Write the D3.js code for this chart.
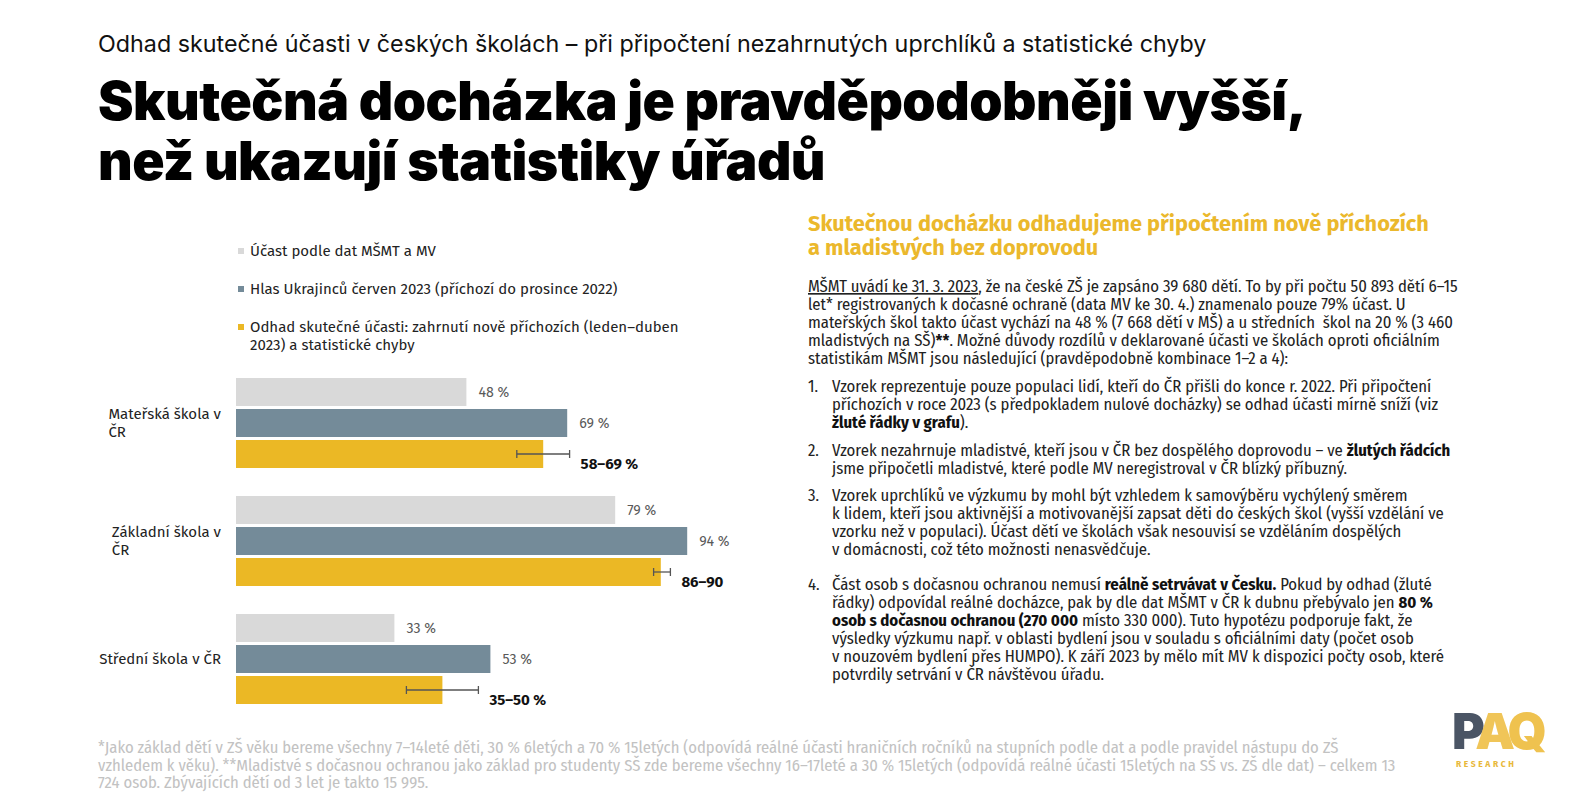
<!DOCTYPE html>
<html>
<head>
<meta charset="utf-8">
<title>Skutečná docházka</title>
<script src="https://cdn.jsdelivr.net/npm/d3@7"></script>
<style>
body { margin:0; background:#fff; }
svg text { white-space: pre; }
</style>
</head>
<body>
<script>
var width = 1576, height = 804;

// --- data ---
var categories = ["Mateřská škola v ČR", "Základní škola v ČR", "Střední škola v ČR"];
var categoryLines = [["Mateřská škola v", "ČR"], ["Základní škola v", "ČR"], ["Střední škola v ČR"]];
var seriesKeys = ["official", "survey", "estimate"];
var legendLines = [
  ["Účast podle dat MŠMT a MV"],
  ["Hlas Ukrajinců červen 2023 (příchozí do prosince 2022)"],
  ["Odhad skutečné účasti: zahrnutí nově příchozích (leden–duben", "2023) a statistické chyby"]
];
var officialValues = [48, 79, 33];
var surveyValues = [69, 94, 53];
var estimateValues = [64, 88.5, 43];
var estimateLow = [58.5, 87, 35.5];
var estimateHigh = [69.5, 90.5, 50.5];
var estimateLabels = ["58–69 %", "86–90", "35–50 %"];
var colors = ["#d9d9d9", "#748b99", "#ebb825"];

var subtitle = "Odhad skutečné účasti v českých školách – při připočtení nezahrnutých uprchlíků a statistické chyby";
var titleLines = ["Skutečná docházka je pravděpodobněji vyšší,", "než ukazují statistiky úřadů"];
var headingLines = ["Skutečnou docházku odhadujeme připočtením nově příchozích", "a mladistvých bez doprovodu"];
var paraLines = [
  [["MŠMT uvádí ke 31. 3. 2023", "u"], [", že na české ZŠ je zapsáno 39 680 dětí. To by při počtu 50 893 dětí 6–15", ""]],
  [["let* registrovaných k dočasné ochraně (data MV ke 30. 4.) znamenalo pouze 79% účast. U", ""]],
  [["mateřských škol takto účast vychází na 48 % (7 668 dětí v MŠ) a u středních  škol na 20 % (3 460", ""]],
  [["mladistvých na SŠ)", ""], ["**", "b"], [". Možné důvody rozdílů v deklarované účasti ve školách oproti oficiálním", ""]],
  [["statistikám MŠMT jsou následující (pravděpodobně kombinace 1–2 a 4):", ""]]
];
var listItems = [
  [
    [["Vzorek reprezentuje pouze populaci lidí, kteří do ČR přišli do konce r. 2022. Při připočtení", ""]],
    [["příchozích v roce 2023 (s předpokladem nulové docházky) se odhad účasti mírně sníží (viz", ""]],
    [["žluté řádky v grafu", "b"], [").", ""]]
  ],
  [
    [["Vzorek nezahrnuje mladistvé, kteří jsou v ČR bez dospělého doprovodu – ve ", ""], ["žlutých řádcích", "b"]],
    [["jsme připočetli mladistvé, které podle MV neregistroval v ČR blízký příbuzný.", ""]]
  ],
  [
    [["Vzorek uprchlíků ve výzkumu by mohl být vzhledem k samovýběru vychýlený směrem", ""]],
    [["k lidem, kteří jsou aktivnější a motivovanější zapsat děti do českých škol (vyšší vzdělání ve", ""]],
    [["vzorku než v populaci). Účast dětí ve školách však nesouvisí se vzděláním dospělých", ""]],
    [["v domácnosti, což této možnosti nenasvědčuje.", ""]]
  ],
  [
    [["Část osob s dočasnou ochranou nemusí ", ""], ["reálně setrvávat v Česku.", "b"], [" Pokud by odhad (žluté", ""]],
    [["řádky) odpovídal reálné docházce, pak by dle dat MŠMT v ČR k dubnu přebývalo jen ", ""], ["80 %", "b"]],
    [["osob s dočasnou ochranou (270 000", "b"], [" místo 330 000). Tuto hypotézu podporuje fakt, že", ""]],
    [["výsledky výzkumu např. v oblasti bydlení jsou v souladu s oficiálními daty (počet osob", ""]],
    [["v nouzovém bydlení přes HUMPO). K září 2023 by mělo mít MV k dispozici počty osob, které", ""]],
    [["potvrdily setrvání v ČR návštěvou úřadu.", ""]]
  ]
];
var itemTops = [392, 456, 501, 590];
var footLines = [
  "*Jako základ dětí v ZŠ věku bereme všechny 7–14leté děti, 30 % 6letých a 70 % 15letých (odpovídá reálné účasti hraničních ročníků na stupních podle dat a podle pravidel nástupu do ZŠ",
  "vzhledem k věku). **Mladistvé s dočasnou ochranou jako základ pro studenty SŠ zde bereme všechny 16–17leté a 30 % 15letých (odpovídá reálné účasti 15letých na SŠ vs. ZŠ dle dat) – celkem 13",
  "724 osob. Zbývajících dětí od 3 let je takto 15 995."
];

var TITLE_FONT = "Inter, Roboto, 'Noto Sans', sans-serif";
var LABEL_FONT = "'Fira Sans', 'Open Sans', 'Noto Sans', sans-serif";
var BODY_FONT = "'Fira Sans Condensed', 'Liberation Sans Narrow', 'DejaVu Sans Condensed', 'Roboto Condensed', 'Open Sans', sans-serif";

var svg = d3.select("body").append("svg")
  .attr("width", width)
  .attr("height", height);

svg.append("rect").attr("width", width).attr("height", height).attr("fill", "#fff");

// scale a font size so that a text node reaches the target width
function fitSize(sel, target) {
  var w = sel.node().getComputedTextLength();
  return parseFloat(sel.attr("font-size")) * target / w;
}

function richText(parent, x, y, segs, font, size, fill) {
  var t = parent.append("text")
    .attr("x", x).attr("y", y)
    .attr("font-family", font)
    .attr("font-size", size)
    .attr("fill", fill);
  segs.forEach(function(s) {
    var sp = t.append("tspan").text(s[0]);
    if (s[1] == "b") sp.attr("font-weight", 700).attr("fill", "#111");
    if (s[1] == "u") sp.style("text-decoration", "underline");
  });
  return t;
}

// --- titles ---
var sub = svg.append("text")
  .attr("x", 98).attr("y", 52)
  .attr("font-family", TITLE_FONT).attr("font-size", 21)
  .attr("fill", "#111").text(subtitle);
sub.attr("font-size", fitSize(sub, 1109));

var t1 = svg.append("text")
  .attr("x", 98).attr("y", 120)
  .attr("font-family", TITLE_FONT).attr("font-weight", 900).attr("font-size", 50)
  .attr("letter-spacing", -0.5)
  .attr("fill", "#000").text(titleLines[0]);
var titleSize = fitSize(t1, 1207);
t1.attr("font-size", titleSize);
svg.append("text")
  .attr("x", 98).attr("y", 180)
  .attr("font-family", TITLE_FONT).attr("font-weight", 900).attr("font-size", titleSize)
  .attr("letter-spacing", -0.5)
  .attr("fill", "#000").text(titleLines[1]);

// --- legend ---
var legend = svg.append("g");
var legendY = [251, 289, 327];
var probe = legend.append("text").attr("font-family", LABEL_FONT).attr("font-size", 14).text(legendLines[1][0]);
var legendSize = fitSize(probe, 368);
probe.remove();
legendLines.forEach(function(lines, i) {
  legend.append("rect")
    .attr("x", 238).attr("y", legendY[i] - 3)
    .attr("width", 6).attr("height", 6)
    .attr("fill", colors[i]);
  lines.forEach(function(l, k) {
    legend.append("text")
      .attr("x", 250).attr("y", legendY[i] + k * 18)
      .attr("dy", "0.35em")
      .attr("font-family", LABEL_FONT).attr("font-size", legendSize)
      .attr("fill", "#222").text(l);
  });
});

// --- bars ---
var x = d3.scaleLinear().domain([0, 100]).range([236, 716]);
var y0 = d3.scaleBand().domain(categories).range([378, 704]).paddingInner(28 / 118);
var y1 = d3.scaleBand().domain(seriesKeys).range([0, y0.bandwidth()]).paddingInner(3 / 31);

var rows = categories.map(function(c, i) {
  return {
    cat: c, idx: i,
    vals: [officialValues[i], surveyValues[i], estimateValues[i]]
  };
});

var groups = svg.selectAll("g.group")
  .data(rows)
  .enter().append("g")
  .attr("class", "group")
  .attr("transform", function(d) { return "translate(0," + y0(d.cat) + ")"; });

groups.selectAll("rect")
  .data(function(d) { return d.vals.map(function(v, j) { return {key: seriesKeys[j], v: v, j: j}; }); })
  .enter().append("rect")
  .attr("x", x(0))
  .attr("y", function(d) { return y1(d.key); })
  .attr("width", function(d) { return x(d.v) - x(0); })
  .attr("height", y1.bandwidth())
  .attr("fill", function(d) { return colors[d.j]; });

// plain value labels for the first two series
groups.selectAll("text.val")
  .data(function(d) { return d.vals.slice(0, 2).map(function(v, j) { return {key: seriesKeys[j], v: v}; }); })
  .enter().append("text")
  .attr("class", "val")
  .attr("x", function(d) { return x(d.v) + 12; })
  .attr("y", function(d) { return y1(d.key) + y1.bandwidth() / 2; })
  .attr("dy", "0.35em")
  .attr("font-family", LABEL_FONT).attr("font-size", 14.2)
  .attr("fill", "#595959")
  .text(function(d) { return d.v + " %"; });

// error bars + range labels for the estimate
var cy = y1("estimate") + y1.bandwidth() / 2;
groups.append("line")
  .attr("x1", function(d) { return x(estimateLow[d.idx]); })
  .attr("x2", function(d) { return x(estimateHigh[d.idx]); })
  .attr("y1", cy).attr("y2", cy)
  .attr("stroke", "#555").attr("stroke-width", 1.3);
[estimateLow, estimateHigh].forEach(function(arr) {
  groups.append("line")
    .attr("x1", function(d) { return x(arr[d.idx]); })
    .attr("x2", function(d) { return x(arr[d.idx]); })
    .attr("y1", cy - 4).attr("y2", cy + 4)
    .attr("stroke", "#555").attr("stroke-width", 1.3);
});
groups.append("text")
  .attr("x", function(d) { return x(estimateHigh[d.idx]) + 11; })
  .attr("y", cy + 10)
  .attr("dy", "0.35em")
  .attr("font-family", LABEL_FONT).attr("font-size", 15).attr("font-weight", 700)
  .attr("fill", "#111")
  .text(function(d) { return estimateLabels[d.idx]; });

// category labels: block right-aligned at 221, lines left-aligned
groups.each(function(d) {
  var g = d3.select(this);
  var lines = categoryLines[d.idx];
  var mid = y0.bandwidth() / 2;
  var txts = lines.map(function(l, k) {
    return g.append("text")
      .attr("y", mid + (k - (lines.length - 1) / 2) * 18)
      .attr("dy", "0.35em")
      .attr("font-family", LABEL_FONT).attr("font-size", legendSize)
      .attr("fill", "#222").text(l);
  });
  var maxW = d3.max(txts, function(t) { return t.node().getComputedTextLength(); });
  txts.forEach(function(t) { t.attr("x", 221 - maxW); });
});

// --- right text block ---
var right = svg.append("g").attr("transform", "translate(3,0)");
var hp = right.append("text").attr("font-family", LABEL_FONT).attr("font-weight", 700)
  .attr("font-size", 19).text(headingLines[0]);
var headSize = fitSize(hp, 621);
hp.remove();
headingLines.forEach(function(l, k) {
  right.append("text")
    .attr("x", 805).attr("y", 231 + k * 24)
    .attr("font-family", LABEL_FONT).attr("font-weight", 700).attr("font-size", headSize)
    .attr("fill", "#ebb82c").text(l);
});

var bp = richText(right, 0, -50, paraLines[0], BODY_FONT, 14.5, "#222");
var bodySize = fitSize(bp, 650);
bp.remove();

paraLines.forEach(function(segs, k) {
  richText(right, 805, 292 + k * 18, segs, BODY_FONT, bodySize, "#222");
});
listItems.forEach(function(lines, i) {
  right.append("text")
    .attr("x", 805).attr("y", itemTops[i])
    .attr("font-family", BODY_FONT).attr("font-size", bodySize)
    .attr("fill", "#222").text((i + 1) + ".");
  lines.forEach(function(segs, k) {
    richText(right, 829, itemTops[i] + k * 18, segs, BODY_FONT, bodySize, "#222");
  });
});

// --- footnote ---
var fp = svg.append("text").attr("font-family", BODY_FONT).attr("font-size", 13).text(footLines[1]);
var footSize = fitSize(fp, 1299);
fp.remove();
footLines.forEach(function(l, k) {
  svg.append("text")
    .attr("x", 98).attr("y", 753 + k * 17.5)
    .attr("font-family", BODY_FONT).attr("font-size", footSize)
    .attr("fill", "#c2c2c2").text(l);
});

// --- logo ---
var logo = svg.append("text")
  .attr("x", 1452).attr("y", 749)
  .attr("font-family", TITLE_FONT).attr("font-weight", 900).attr("font-size", 50)
  .attr("letter-spacing", -5);
logo.append("tspan").attr("fill", "#4b5565").text("P");
logo.append("tspan").attr("fill", "#efc24f").attr("fill-opacity", 0.95).text("A");
logo.append("tspan").attr("fill", "#efc24f").text("Q");
svg.append("text").attr("x", 1456).attr("y", 767)
  .attr("font-family", LABEL_FONT).attr("font-weight", 700).attr("font-size", 8.5)
  .attr("letter-spacing", 2.6)
  .attr("fill", "#e8b83a").text("RESEARCH");
</script>
</body>
</html>
